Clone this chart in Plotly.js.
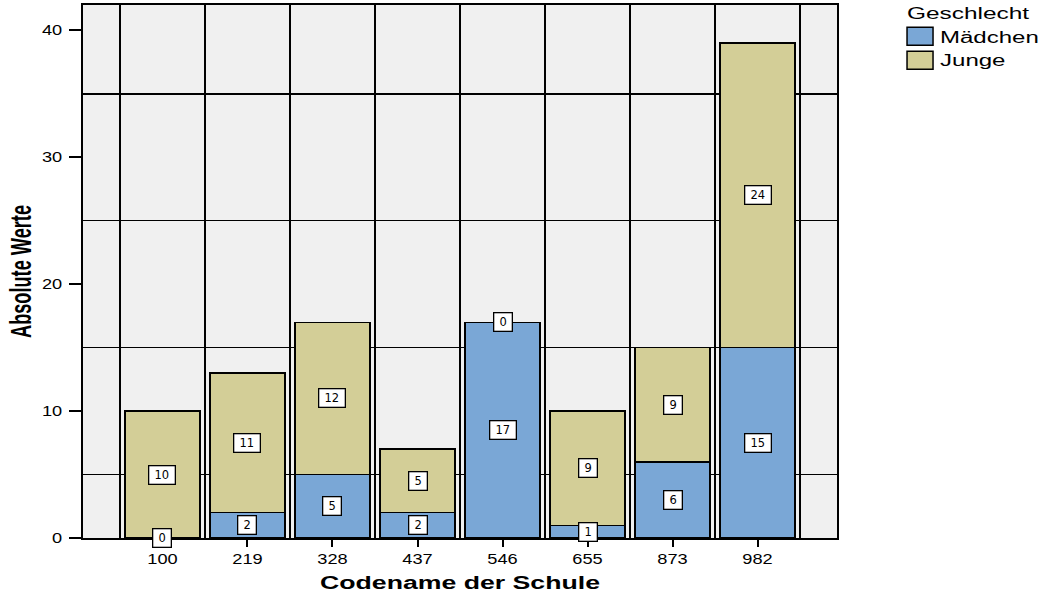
<!DOCTYPE html>
<html>
<head>
<meta charset="utf-8">
<script src="https://cdn.plot.ly/plotly-3.0.1.min.js"></script>
<style>html,body{margin:0;padding:0;background:#fff;}#chart{width:1043px;height:593px;}</style>
</head>
<body>
<div id="chart"></div>
<script>
// ---- data ----
const schools = ["100", "219", "328", "437", "546", "655", "873", "982"];
const maedchen = [0, 2, 5, 2, 17, 1, 6, 15];
const junge = [10, 11, 12, 5, 0, 9, 9, 24];
const seriesNames = ["Mädchen", "Junge"];
const yTicks = [0, 10, 20, 30, 40];

const BLUE = "#7aa7d6";
const BEIGE = "#d3ce97";
const FONT = "Liberation Sans, Arial, sans-serif";
const XRANGE = [-0.935, 7.935];

const traces = [
  {
    type: "bar", name: seriesNames[0], x: schools, y: maedchen,
    marker: {color: BLUE, line: {color: "#000", width: 1.5}},
    hoverinfo: "x+y+name"
  },
  {
    type: "bar", name: seriesNames[1], x: schools, y: junge,
    marker: {color: BEIGE, line: {color: "#000", width: 1.5}},
    hoverinfo: "x+y+name"
  },
  {
    type: "scatter", mode: "markers", x: schools, y: schools.map(() => 0),
    marker: {opacity: 0, size: 1},
    xaxis: "x2", yaxis: "y", showlegend: false, hoverinfo: "skip"
  }
];

// value labels in the middle of every segment (category axis -> serial index)
const annotations = [];
function addLabels(base, vals) {
  vals.forEach((v, i) => {
    const b = base ? base[i] : 0;
    annotations.push({
      x: i, y: b + v / 2, xref: "x", yref: "y",
      text: String(v), showarrow: false,
      font: {family: "DejaVu Sans, sans-serif", size: 11.5, color: "#000"},
      bgcolor: "#fff", bordercolor: "#000", borderwidth: 1.3, borderpad: 1.5,
      width: String(v).length * 7.5 + 7, height: 14
    });
  });
}
addLabels(null, maedchen);
addLabels(maedchen, junge);

const layout = {
  width: 1043, height: 593,
  margin: {l: 83, r: 206, t: 5, b: 55},
  paper_bgcolor: "#fff", plot_bgcolor: "#f0f0f0",
  barmode: "stack", bargap: 0.12,
  font: {family: FONT, color: "#000", size: 14},
  showlegend: true,
  legend: {
    x: 1.0836, xref: "paper", y: 1.0, yanchor: "top", xanchor: "left",
    traceorder: "normal", font: {family: FONT, size: 16, color: "#000"},
    title: {text: "Geschlecht", font: {family: FONT, size: 16.5, color: "#000"}},
    bgcolor: "rgba(0,0,0,0)", borderwidth: 0
  },
  xaxis: {
    type: "category", categoryorder: "array", categoryarray: schools,
    range: XRANGE, fixedrange: true,
    tickson: "boundaries", showgrid: true, gridcolor: "#000", gridwidth: 1.5,
    ticks: "", showline: true, linecolor: "#000", linewidth: 2, mirror: true,
    tickfont: {family: FONT, size: 14, color: "#000"}, ticklabelstandoff: 7,
    title: {text: "Codename der Schule", font: {family: FONT, size: 18, color: "#000", weight: "bold"}, standoff: 14},
    automargin: false
  },
  xaxis2: {
    type: "category", categoryorder: "array", categoryarray: schools,
    overlaying: "x", anchor: "y", side: "bottom", range: XRANGE, fixedrange: true,
    ticks: "outside", ticklen: 8, tickwidth: 2, tickcolor: "#000",
    showticklabels: false, showgrid: false, showline: false, zeroline: false
  },
  yaxis: {
    range: [0, 42], fixedrange: true,
    tickmode: "array", tickvals: yTicks, ticktext: yTicks.map(String),
    showgrid: false, zeroline: false,
    minor: {tickmode: "array", tickvals: yTicks.slice(0, -1).map(v => v + 5), showgrid: true, gridcolor: "#000", gridwidth: 1.5, ticks: ""},
    ticks: "outside", ticklen: 12, tickwidth: 2, tickcolor: "#000",
    showline: true, linecolor: "#000", linewidth: 2, mirror: true,
    tickfont: {family: FONT, size: 14, color: "#000"}, ticklabelstandoff: 4,
    title: {text: "Absolute Werte", font: {family: FONT, size: 29, color: "#000", weight: "bold"}, standoff: 6},
    automargin: false
  },
  annotations: annotations
};

Plotly.newPlot("chart", traces, layout, {displayModeBar: false, staticPlot: true}).then(() => {
  function stretch(sel, f, target) {
    document.querySelectorAll(sel).forEach(t => {
      const L = t.getComputedTextLength();
      if (!L) return;
      t.setAttribute("textLength", target ? target : L * f);
      t.setAttribute("lengthAdjust", "spacingAndGlyphs");
    });
  }
  stretch(".xtick text", 1.3);
  stretch(".ytick text", 1.3);
  stretch(".legendtext", 1.5);
  stretch(".legendtitletext", 0, 122);
  stretch("text.xtitle", 0, 280);
  stretch("text.ytitle", 0, 133);
  document.querySelectorAll(".legend [clip-path]").forEach(e => e.removeAttribute("clip-path"));
  document.querySelectorAll(".legendpoints path").forEach(p => {
    p.setAttribute("d", "M13,9H-13V-9H13Z");
  });
  const lg = document.querySelector("g.legend");
  if (lg) {
    const m = /translate\(([-\d.]+)[ ,]+([-\d.]+)\)/.exec(lg.getAttribute("transform") || "");
    if (m) lg.setAttribute("transform", "translate(" + (+m[1]) + "," + (+m[2] - 7) + ")");
  }
  document.querySelectorAll(".legendtitletext").forEach(t => {
    t.setAttribute("x", (parseFloat(t.getAttribute("x")) || 0) + 5);
  });
});
</script>
</body>
</html>
